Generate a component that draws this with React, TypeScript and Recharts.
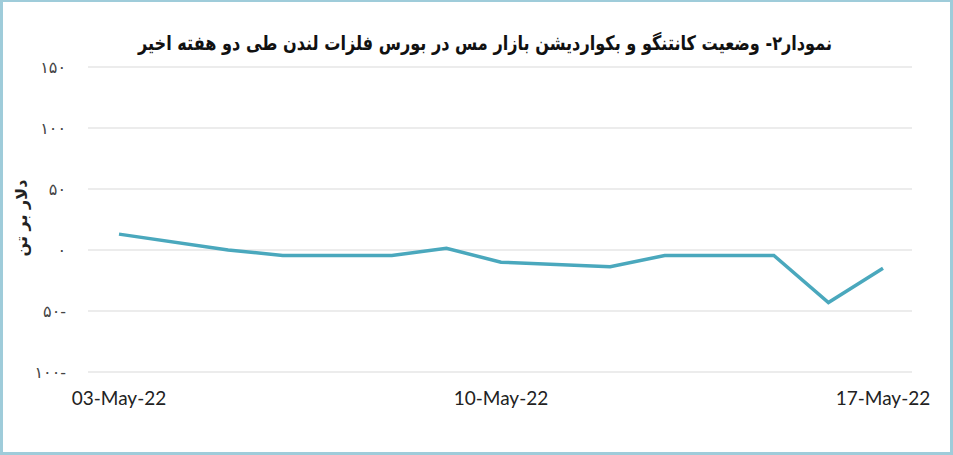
import React from 'react';
import { LineChart, Line, XAxis, YAxis, CartesianGrid } from 'recharts';

const title = 'نمودار۲- وضعیت کانتنگو و بکواردیشن بازار مس در بورس فلزات لندن طی دو هفته اخیر';
const yAxisTitle = 'دلار بر تن';
const days = [3, 5, 6, 8, 9, 10, 12, 13, 15, 16, 17];
const spread = [13, 0, -4.5, -4.5, 1.4, -10, -13.7, -4.5, -4.5, -43, -15];
const xTicks = [3, 10, 17];
const xTickLabels: Record<number, string> = { 3: '03-May-22', 10: '10-May-22', 17: '17-May-22' };
const yTicks = [-100, -50, 0, 50, 100, 150];
const yTickLabels: Record<number, string> = {
  150: '۱۵۰',
  100: '۱۰۰',
  50: '۵۰',
  0: '۰',
  [-50]: '۵۰-',
  [-100]: '۱۰۰-',
};

const data = days.map((d, i) => ({ day: d, value: spread[i] }));

export default function App() {
  return (
    <div
      style={{
        position: 'absolute',
        left: 0,
        top: 0,
        width: 953,
        height: 455,
        boxSizing: 'border-box',
        borderStyle: 'solid',
        borderColor: '#9fccda',
        borderWidth: '2px 3px 3px 3px',
        background: '#fff',
      }}
    >
      <div style={{ position: 'absolute', left: -3, top: -2 }}>
        <LineChart width={953} height={455} data={data} margin={{ top: 67, right: 41, bottom: 53, left: 0 }}>
          <text
            x={485}
            y={50}
            textAnchor="middle"
            textLength={694}
            lengthAdjust="spacingAndGlyphs"
            style={{ fontFamily: 'DejaVu Sans', fontWeight: 'bold', fontSize: 20, fill: '#111' }}
          >
            {title}
          </text>
          <text
            x={0}
            y={0}
            transform="translate(27, 218) rotate(-90)"
            textAnchor="middle"
            style={{ fontFamily: 'DejaVu Sans', fontWeight: 'bold', fontSize: 16, fill: '#222' }}
          >
            {yAxisTitle}
          </text>
          <CartesianGrid vertical={false} stroke="#d9d9d9" strokeWidth={1} />
          <XAxis
            dataKey="day"
            type="number"
            domain={[3, 17]}
            ticks={xTicks}
            padding={{ left: 31, right: 29 }}
            tickFormatter={(v: number) => xTickLabels[v] ?? ''}
            axisLine={false}
            tickLine={false}
            tickMargin={14}
            tick={{ fontFamily: 'Lato', fontSize: 19, fill: '#222' }}
          />
          <YAxis
            type="number"
            domain={[-100, 150]}
            ticks={yTicks}
            tickFormatter={(v: number) => yTickLabels[v] ?? ''}
            axisLine={false}
            tickLine={false}
            width={88}
            tickMargin={16}
            tick={{ fontFamily: 'DejaVu Sans', fontSize: 16, fill: '#444' }}
          />
          <Line
            type="linear"
            dataKey="value"
            stroke="#4aa8bd"
            strokeWidth={3.5}
            dot={false}
            isAnimationActive={false}
          />
        </LineChart>
      </div>
    </div>
  );
}
